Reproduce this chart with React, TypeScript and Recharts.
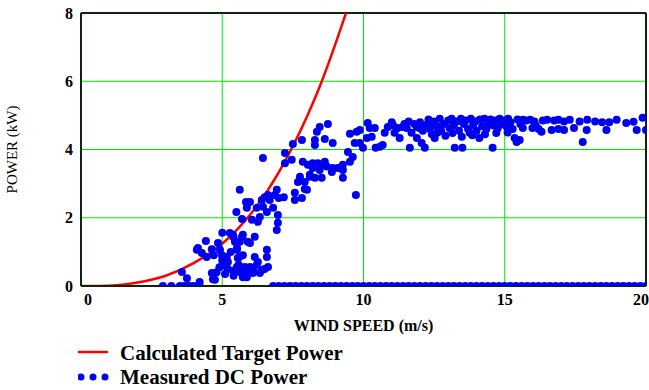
import React from "react";
import {
  ComposedChart,
  Line,
  Scatter,
  XAxis,
  YAxis,
  ZAxis,
  CartesianGrid,
  ReferenceLine,
} from "recharts";

const xTicks = [0, 5, 10, 15, 20];
const yTicks = [0, 2, 4, 6, 8];

// calculated target power curve
const targetWind = [0, 1, 2, 3, 4, 5, 6, 7, 7.5, 8, 8.5, 9, 9.4];
const targetPower = [0, 0.01, 0.1, 0.3, 0.68, 1.24, 2.1, 3.33, 4.1, 4.97, 5.95, 7.08, 8.05];

// measured DC power [wind, power]
const rampPoints = [
  [3.57, 0.41], [3.75, 0.23], [4.2, 0.12], [4.1, 1.06], [4.28, 0.97], [4.42, 1.32],
  [4.45, 0.85], [4.63, 1.08], [4.7, 0.9], [4.63, 0.38], [4.67, 0.2], [4.8, 0.4],
  [4.85, 1.26], [5.0, 1.56], [4.92, 1.06], [4.99, 0.9], [5.16, 0.85], [5.2, 0.7],
  [5.27, 1.55], [5.4, 1.43], [5.5, 2.17], [5.62, 1.3], [5.52, 1.06], [5.6, 0.85],
  [5.52, 0.53], [5.62, 0.41], [5.73, 0.26], [5.7, 1.44], [5.87, 0.26], [5.84, 2.46],
  [5.9, 1.3], [4.14, 1.11], [4.74, 0.18], [5.05, 0.6], [5.2, 0.5], [5.38, 0.45],
  [5.58, 0.62], [5.4, 0.3], [5.1, 0.35], [5.0, 0.75], [4.9, 0.55], [5.3, 1.0],
  [5.62, 2.82], [5.98, 2.46], [5.7, 1.96], [5.87, 2.29], [6.05, 1.94], [6.22, 2.29],
  [6.4, 2.52], [6.5, 2.6], [6.62, 2.67], [6.68, 2.52], [6.86, 2.67], [6.44, 2.32],
  [6.58, 2.17], [6.33, 2.02], [6.26, 1.88], [6.8, 2.29], [6.97, 2.08], [6.97, 1.85],
  [6.93, 1.64], [5.38, 1.5], [5.73, 1.5], [5.45, 1.3], [6.15, 1.44], [5.98, 1.26],
  [5.52, 1.11], [5.73, 0.9], [5.55, 0.82], [6.15, 0.85], [6.26, 0.7], [6.58, 1.06],
  [6.58, 0.85], [5.52, 0.56], [5.8, 0.56], [5.98, 0.56], [6.22, 0.62], [6.4, 0.47],
  [6.62, 0.56], [5.73, 0.38], [6.08, 0.38], [6.33, 0.38], [6.44, 3.75], [6.93, 2.82],
  [6.1, 0.45], [6.5, 0.5], [5.9, 0.45],
];

const kneePoints = [
  [7.22, 3.9], [7.5, 4.16], [7.82, 4.28], [8.28, 4.28], [8.28, 4.13], [7.22, 3.6],
  [7.46, 3.7], [7.85, 3.64], [8.03, 3.55], [8.2, 3.6], [8.1, 3.26], [8.28, 3.17],
  [7.68, 3.05], [7.92, 3.05], [8.0, 2.82], [7.57, 2.73], [7.82, 2.58], [7.57, 2.52],
  [7.18, 2.6], [7.0, 2.58], [8.74, 4.75], [8.45, 4.66], [8.35, 4.52], [8.63, 4.31],
  [8.91, 4.19], [9.52, 4.46], [9.76, 4.52], [9.87, 4.57], [9.69, 4.19], [9.87, 4.19],
  [9.98, 4.05], [9.45, 3.93], [9.62, 3.78], [9.52, 3.64], [9.27, 3.55], [9.27, 3.4],
  [9.09, 3.46], [8.91, 3.46], [8.88, 3.34], [8.2, 3.46], [8.38, 3.6], [8.52, 3.55],
  [8.63, 3.64], [8.1, 3.2], [8.52, 3.17], [9.27, 3.17], [9.73, 2.67], [7.92, 2.84],
  [7.75, 3.2], [8.45, 3.4], [8.7, 3.5],
];

const ratedPoints = [
  [10.15, 4.78], [10.22, 4.63], [10.4, 4.63], [10.29, 4.37], [10.12, 4.34], [10.43, 4.05],
  [10.58, 4.08], [10.68, 4.13], [10.75, 4.49], [10.86, 4.66], [11.04, 4.72], [11.1, 4.49],
  [11.28, 4.34], [11.21, 4.63], [11.39, 4.66], [11.53, 4.63], [11.64, 4.05], [11.7, 4.49],
  [11.89, 4.66], [11.89, 4.34], [12.0, 4.8], [12.06, 4.19], [12.1, 4.55], [12.17, 4.05],
  [12.2, 4.72], [12.3, 4.88], [12.35, 4.6], [12.42, 4.45], [12.5, 4.82], [12.52, 4.34],
  [12.6, 4.68], [12.7, 4.9], [12.75, 4.55], [12.85, 4.75], [12.9, 4.4], [13.0, 4.85],
  [13.05, 4.62], [13.12, 4.9], [13.2, 4.7], [13.23, 4.05], [13.3, 4.82], [13.38, 4.55],
  [13.45, 4.9], [13.48, 4.37], [13.5, 4.05], [13.55, 4.75], [13.62, 4.85], [13.7, 4.6],
  [13.76, 4.49], [13.8, 4.9], [13.88, 4.72], [13.95, 4.82], [14.0, 4.55], [14.1, 4.34],
  [14.12, 4.88], [14.2, 4.68], [14.28, 4.9], [14.35, 4.6], [14.42, 4.8], [14.5, 4.88],
  [14.57, 4.05], [14.6, 4.7], [14.68, 4.85], [14.75, 4.62], [14.82, 4.9], [14.9, 4.75],
  [14.98, 4.85], [15.05, 4.68], [15.12, 4.9], [15.2, 4.8], [15.28, 4.6], [15.35, 4.34],
  [15.42, 4.22], [15.45, 4.88], [15.53, 4.28], [15.55, 4.75], [15.64, 4.87], [15.64, 4.63],
  [15.75, 4.85], [15.9, 4.87], [15.98, 4.63], [16.05, 4.82], [16.3, 4.52], [16.35, 4.85],
  [16.5, 4.87], [16.66, 4.57], [16.75, 4.85], [16.9, 4.87], [17.1, 4.57], [17.1, 4.82],
  [17.3, 4.87], [17.45, 4.63], [17.65, 4.82], [17.76, 4.22], [17.9, 4.57], [17.92, 4.87],
  [18.2, 4.82], [18.45, 4.8], [18.6, 4.57], [18.7, 4.8], [18.96, 4.87], [19.3, 4.78],
  [19.56, 4.81], [19.67, 4.57], [19.88, 4.93], [20.0, 4.57],
  [11.0, 4.8], [11.45, 4.75], [11.6, 4.82], [11.8, 4.75], [12.0, 4.62], [12.4, 4.78],
  [12.62, 4.5], [13.15, 4.48], [13.85, 4.42], [14.3, 4.45], [14.7, 4.48], [15.1, 4.5],
  [16.1, 4.7], [16.2, 4.6], [16.9, 4.6],
];

// readings at zero power
const zeroWind = [
  2.9, 3.2, 3.5, 3.65, 3.8, 3.95, 4.1, 4.2,
  6.8, 7.0, 7.2, 7.4, 7.6, 7.8, 8.0, 8.2, 8.4, 8.6, 8.8, 9.0, 9.2, 9.4, 9.6, 9.8,
  10.0, 10.2, 10.4, 10.6, 10.8, 11.0, 11.2, 11.4, 11.6, 11.8, 12.0, 12.2, 12.4, 12.6,
  12.8, 13.0, 13.2, 13.4, 13.6, 13.8, 14.0, 14.2, 14.4, 14.6, 14.8, 15.0, 15.2, 15.4,
  15.6, 15.8, 16.0, 16.2, 16.4, 16.6, 16.8, 17.0, 17.2, 17.4, 17.6, 17.8, 18.0, 18.2,
  18.4, 18.6, 18.8, 19.0, 19.2, 19.4, 19.6, 19.8, 20.0,
];

const targetData = targetWind.map((v, i) => ({ v, p: targetPower[i] }));
const measuredData = [...rampPoints, ...kneePoints, ...ratedPoints].map(([v, p]) => ({ v, p }));
const zeroData = zeroWind.map((v) => ({ v, p: 0 }));

const serif = '"Liberation Serif", "Times New Roman", serif';
const frame = "#0d260d";
const blue = "#0000f0";

const FullDot = (props: any) => {
  const { cx, cy } = props;
  if (cx == null || cy == null) return null;
  return <circle cx={cx} cy={cy} r={4} fill={blue} />;
};

// dots at 0 kW sit on the axis, only the top half shows
const HalfDot = (props: any) => {
  const { cx, cy } = props;
  if (cx == null || cy == null) return null;
  return <path d={`M${cx - 4},${cy} A4,4 0 0 1 ${cx + 4},${cy} Z`} fill={blue} />;
};

const XTick = (props: any) => {
  const { x, y, payload, index } = props;
  return (
    <text
      x={x + (index === 0 ? 7 : 0)}
      y={y}
      dy="0.71em"
      textAnchor="middle"
      fill="#000"
      fontSize={16}
      fontWeight="bold"
      fontFamily={serif}
    >
      {payload.value}
    </text>
  );
};

export default function App() {
  return (
    <div style={{ position: "relative", width: 649, height: 390, fontFamily: serif }}>
      <style>{"body{margin:0}"}</style>
      <ComposedChart
        width={649}
        height={390}
        margin={{ top: 13, right: 3, bottom: 54, left: 0 }}
      >
        <CartesianGrid stroke="#00e600" strokeWidth={1} />
        <XAxis
          type="number"
          dataKey="v"
          domain={[0, 20]}
          ticks={xTicks}
          allowDataOverflow
          height={50}
          tickLine={false}
          axisLine={{ stroke: frame, strokeWidth: 2 }}
          tick={<XTick />}
          label={{
            value: "WIND SPEED (m/s)",
            position: "insideBottom",
            offset: 5,
            style: { fill: "#000", fontSize: 16, fontWeight: "bold", fontFamily: serif },
          }}
        />
        <YAxis
          type="number"
          dataKey="p"
          domain={[0, 8]}
          ticks={yTicks}
          allowDataOverflow
          width={81}
          tickLine={false}
          axisLine={{ stroke: frame, strokeWidth: 2 }}
          tick={{ fill: "#000", fontSize: 16, fontWeight: "bold", fontFamily: serif }}
          label={{
            value: "POWER (kW)",
            angle: -90,
            position: "insideLeft",
            offset: 12,
            style: { fill: "#000", fontSize: 15, fontFamily: serif, textAnchor: "middle" },
          }}
        />
        <ZAxis range={[50, 50]} />
        <ReferenceLine y={8} stroke={frame} strokeWidth={2} />
        <ReferenceLine x={20} stroke={frame} strokeWidth={2} />
        <Line
          data={targetData}
          dataKey="p"
          type="monotone"
          stroke="#ff0000"
          strokeWidth={2.5}
          dot={false}
          isAnimationActive={false}
        />
        <Scatter
          data={measuredData}
          dataKey="p"
          fill={blue}
          shape={FullDot}
          isAnimationActive={false}
        />
        <Scatter
          data={zeroData}
          dataKey="p"
          fill={blue}
          shape={HalfDot}
          isAnimationActive={false}
        />
      </ComposedChart>

      <div style={{ position: "absolute", left: 78, top: 341, fontSize: 21, fontWeight: "bold", lineHeight: "24px" }}>
        <div style={{ display: "flex", alignItems: "center" }}>
          <svg width={42} height={24}>
            <line x1={0} y1={11} x2={30} y2={11} stroke="#ff0000" strokeWidth={2.5} />
          </svg>
          <span>Calculated Target Power</span>
        </div>
        <div style={{ display: "flex", alignItems: "center" }}>
          <svg width={42} height={24}>
            <circle cx={3} cy={12} r={3.5} fill={blue} />
            <circle cx={15} cy={12} r={3.5} fill={blue} />
            <circle cx={27} cy={12} r={3.5} fill={blue} />
          </svg>
          <span>Measured DC Power</span>
        </div>
      </div>
    </div>
  );
}
